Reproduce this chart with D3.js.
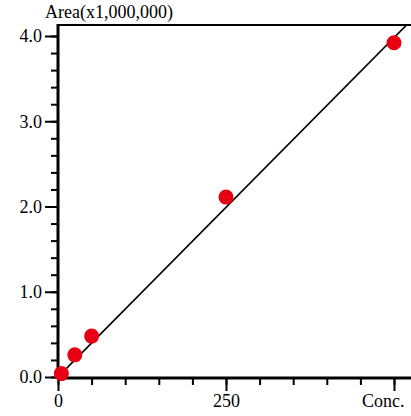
<!DOCTYPE html>
<html><head><meta charset="utf-8">
<script src="https://cdn.jsdelivr.net/npm/d3@7"></script>
<style>body{margin:0;background:#fff}svg{display:block}text{font-family:"Liberation Serif","Times New Roman",serif;fill:#000}</style>
</head><body>
<svg id="c" width="411" height="416"></svg>
<script>
const conc = [5, 25, 50, 250, 500];
const area = [0.04, 0.26, 0.48, 2.11, 3.92];
const fitSlope = 0.00796;
const fitIntercept = 0.0;
const yTickValues = [0, 1, 2, 3, 4];
const yTickLabels = ["0.0", "1.0", "2.0", "3.0", "4.0"];
const xTickValues = [0, 250, 500];
const xTickLabels = ["0", "250", "Conc."];
const yTitle = "Area(x1,000,000)";

const svg = d3.select("#c");
const L = 58, R = 411, T = 25, B = 377;
const x = d3.scaleLinear().domain([0, 525.3]).range([L, R]);
const y = d3.scaleLinear().domain([0, 4.129]).range([B, T]);

// clip
svg.append("clipPath").attr("id","clip").append("rect")
  .attr("x", L).attr("y", T).attr("width", R - L).attr("height", B - T);

// fit line
const fx = [0, 525.3];
svg.append("line").attr("clip-path","url(#clip)")
  .attr("x1", x(fx[0])).attr("y1", y(fitIntercept + fitSlope*fx[0]))
  .attr("x2", x(fx[1])).attr("y2", y(fitIntercept + fitSlope*fx[1]))
  .attr("stroke","#000").attr("stroke-width",1.6);

// minor ticks
const yMinor = d3.range(0, 4.01, 0.2);
svg.append("g").attr("transform",`translate(${L},0)`)
  .call(d3.axisLeft(y).tickValues(yMinor).tickSize(7).tickFormat(""))
  .call(g=>g.select(".domain").remove())
  .call(g=>g.selectAll("line").attr("stroke-width",2));
const xMinor = d3.range(0, 501, 50);
svg.append("g").attr("transform",`translate(0,${B+2})`)
  .call(d3.axisBottom(x).tickValues(xMinor).tickSize(6).tickFormat(""))
  .call(g=>g.select(".domain").remove())
  .call(g=>g.selectAll("line").attr("stroke-width",2));

// major ticks
const ya = svg.append("g").attr("transform",`translate(${L},0)`)
  .call(d3.axisLeft(y).tickValues(yTickValues).tickSize(13).tickPadding(3)
    .tickFormat((d,i)=>yTickLabels[i]))
  .call(g=>g.select(".domain").remove());
ya.selectAll("line").attr("stroke-width",2);
ya.selectAll("text").attr("font-size",18).style("font-family",'"Liberation Serif",serif').attr("dy","0.33em");

const xa = svg.append("g").attr("transform",`translate(0,${B+1})`)
  .call(d3.axisBottom(x).tickValues(xTickValues).tickSize(13).tickPadding(3)
    .tickFormat((d,i)=>xTickLabels[i]))
  .call(g=>g.select(".domain").remove());
xa.selectAll("line").attr("stroke-width",2);
xa.selectAll("text").attr("font-size",18).style("font-family",'"Liberation Serif",serif');
xa.selectAll("text").filter((d,i)=>i===2).attr("text-anchor","end").attr("dx","10");

// frame lines
svg.append("line").attr("x1",L).attr("x2",L).attr("y1",T-1).attr("y2",B+2).attr("stroke","#000").attr("stroke-width",3);
svg.append("line").attr("x1",L).attr("x2",R).attr("y1",T).attr("y2",T).attr("stroke","#000").attr("stroke-width",2);
svg.append("line").attr("x1",L-1).attr("x2",R).attr("y1",B+1).attr("y2",B+1).attr("stroke","#000").attr("stroke-width",3);

// points
svg.append("g").selectAll("circle").data(conc).join("circle")
  .attr("cx",(d)=>x(d)).attr("cy",(d,i)=>y(area[i])).attr("r",7.5)
  .attr("fill","#e60012");

// title
svg.append("text").attr("x",45).attr("y",18).attr("font-size",18).text(yTitle);
</script>
</body></html>
